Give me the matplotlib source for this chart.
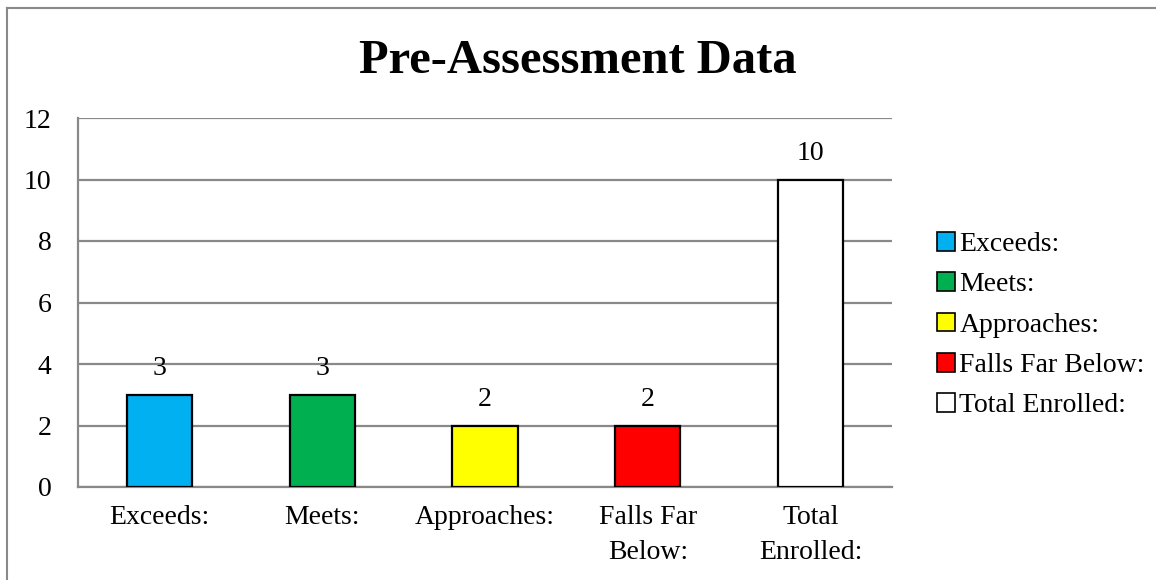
import matplotlib
matplotlib.use('Agg')
import matplotlib.pyplot as plt
from matplotlib.patches import Patch
from matplotlib.lines import Line2D

categories = ['Exceeds:', 'Meets:', 'Approaches:', 'Falls Far Below:', 'Total Enrolled:']
tick_labels = ['Exceeds:', 'Meets:', 'Approaches:', 'Falls Far\nBelow:', 'Total\nEnrolled:']
values = [3, 3, 2, 2, 10]
colors = ['#00B0F0', '#00B050', '#FFFF00', '#FF0000', '#FFFFFF']
y_ticks = [0, 2, 4, 6, 8, 10, 12]

plt.rcParams['font.family'] = ['Liberation Serif', 'DejaVu Serif']
grid_col = '#898989'
fs = 20

fig = plt.figure(figsize=(11.56, 5.8), dpi=100)
ax = fig.add_axes([78 / 1156, 1 - 487 / 580, 814 / 1156, 369 / 580])

x = range(len(categories))
bars = ax.bar(x, values, width=0.4, color=colors, edgecolor='black', linewidth=1.6, zorder=3)
for b, v in zip(bars, values):
    ax.annotate(str(v), (b.get_x() + b.get_width() / 2, v), xytext=(0, 10),
                textcoords='offset points', ha='center', va='bottom', fontsize=fs)

ax.set_xlim(-0.5, len(categories) - 0.5)
ax.set_ylim(0, 12)
ax.set_yticks(y_ticks)
ax.set_xticks(list(x))
ax.set_xticklabels(tick_labels, linespacing=1.5)
ax.tick_params(axis='y', length=0, pad=19, labelsize=fs)
ax.tick_params(axis='x', length=0, pad=13, labelsize=fs)
ax.yaxis.grid(True, color=grid_col, linewidth=1.6, zorder=0)
ax.set_axisbelow(True)
for s in ['top', 'right']:
    ax.spines[s].set_visible(False)
for s in ['left', 'bottom']:
    ax.spines[s].set_color(grid_col)
    ax.spines[s].set_linewidth(1.6)

handles = [Patch(facecolor=c, edgecolor='black', linewidth=1.2) for c in colors]
fig.legend(handles, categories, loc='upper left', bbox_to_anchor=(926 / 1156, 1 - 221 / 580),
           frameon=False, fontsize=fs, handlelength=0.65, handleheight=0.65,
           handletextpad=0.15, labelspacing=0.55, borderaxespad=0)

fig.text(578 / 1156, 1 - 73 / 580, 'Pre-Assessment Data', ha='center', va='baseline',
         fontsize=35, fontweight='bold')

# chart border (only top and left edges visible in the crop)
fig.add_artist(Line2D([7 / 1156, 1], [1 - 8 / 580] * 2, color=grid_col, linewidth=1.5))
fig.add_artist(Line2D([7 / 1156] * 2, [0, 1 - 8 / 580], color=grid_col, linewidth=1.5))

fig.savefig('out.png', dpi=100, facecolor='white')
